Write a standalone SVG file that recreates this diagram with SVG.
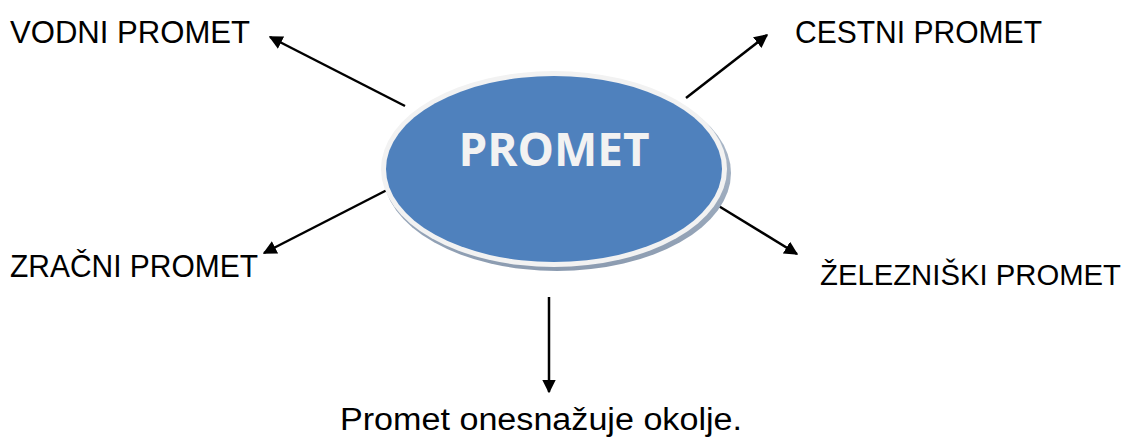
<svg xmlns="http://www.w3.org/2000/svg" width="1133" height="443" viewBox="0 0 1133 443">
<defs>
<style>
.lbl{font-family:"Liberation Sans",Arial,sans-serif;font-size:31px;fill:#000}
.conn{stroke:#000;stroke-width:2.5;fill:none;marker-end:url(#ah)}
</style>
<marker id="ah" viewBox="0 0 10 10" refX="9" refY="5" markerWidth="5.5" markerHeight="5.5" orient="auto" markerUnits="strokeWidth">
<path d="M0,0 L10,5 L0,10 z" fill="#000"/>
</marker>
<linearGradient id="sh" x1="0" y1="0" x2="0" y2="1">
<stop offset="0" stop-color="#b8c4d2"/>
<stop offset="1" stop-color="#8b9bb0"/>
</linearGradient>
</defs>
<rect width="1133" height="443" fill="#fff"/>
<g id="connectors">
<line class="conn" x1="405" y1="106" x2="270" y2="37"/>
<line class="conn" x1="686" y1="98" x2="767" y2="35"/>
<line class="conn" x1="387" y1="190" x2="264" y2="253"/>
<line class="conn" x1="717" y1="205" x2="797" y2="254"/>
<line class="conn" x1="549" y1="297" x2="549" y2="392"/>
</g>
<g id="node-promet">
<ellipse cx="557" cy="173" rx="174" ry="98" fill="url(#sh)"/>
<ellipse cx="554" cy="169" rx="173" ry="98" fill="#f2f2f2"/>
<ellipse cx="554" cy="169" rx="168" ry="93" fill="#4f81bd"/>
<text x="554" y="166" text-anchor="middle" font-family="Open Sans, 'Liberation Sans', sans-serif" font-weight="bold" font-size="46" fill="#f2f2f2" textLength="191" lengthAdjust="spacingAndGlyphs">PROMET</text>
</g>
<g id="node-vodni"><text class="lbl" x="10" y="43" textLength="240" lengthAdjust="spacingAndGlyphs">VODNI PROMET</text></g>
<g id="node-cestni"><text class="lbl" x="795" y="43" textLength="247" lengthAdjust="spacingAndGlyphs">CESTNI PROMET</text></g>
<g id="node-zracni"><text class="lbl" x="10" y="277" textLength="248" lengthAdjust="spacingAndGlyphs">ZRAČNI PROMET</text></g>
<g id="node-zelezniski"><text class="lbl" x="820" y="285" style="font-size:30px" textLength="301" lengthAdjust="spacingAndGlyphs">ŽELEZNIŠKI PROMET</text></g>
<g id="node-okolje"><text class="lbl" x="340" y="430" textLength="402" lengthAdjust="spacingAndGlyphs">Promet onesnažuje okolje.</text></g>
</svg>
